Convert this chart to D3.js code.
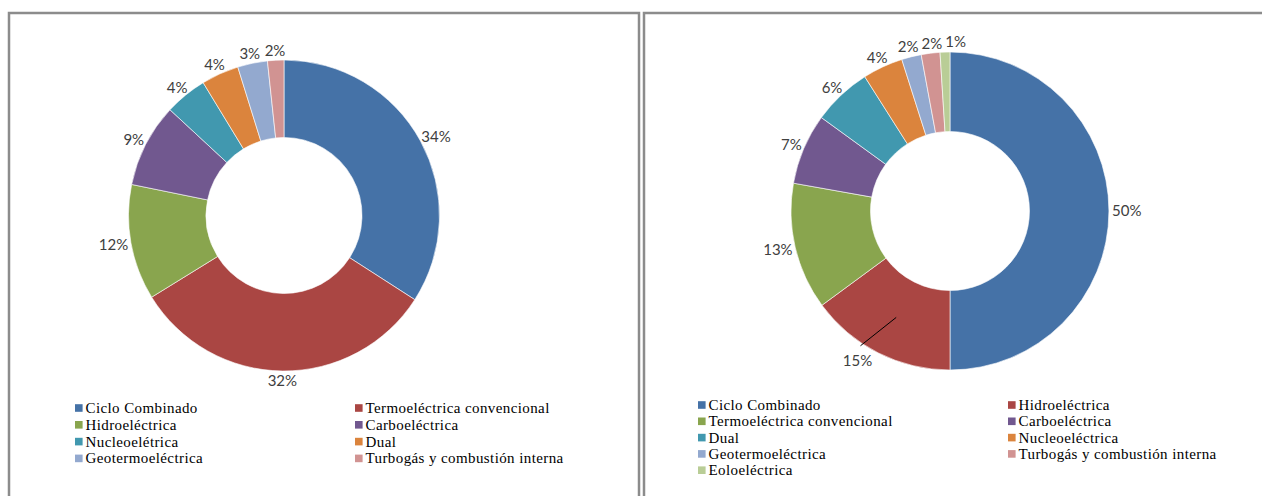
<!DOCTYPE html>
<html>
<head>
<meta charset="utf-8">
<script src="https://cdn.jsdelivr.net/npm/d3@7"></script>
<style>
  body { margin: 0; background: #fff; }
  svg { display: block; }
  .pct { font-family: Lato, "Open Sans", sans-serif; font-size: 15px; fill: #404040; }
  .leg { font-family: "Liberation Serif", "Times New Roman", serif; font-size: 15px; fill: #000; letter-spacing: 0.4px; }
</style>
</head>
<body>
<div id="chart"></div>
<script>
// left chart
var leftCategories = ["Ciclo Combinado", "Termoeléctrica convencional", "Hidroeléctrica", "Carboeléctrica",
                      "Nucleoelétrica", "Dual", "Geotermoeléctrica", "Turbogás y combustión interna"];
var leftValues = [34.1, 32.1, 12.0, 8.7, 4.4, 3.9, 3.1, 1.7];

// right chart
var rightCategories = ["Ciclo Combinado", "Hidroeléctrica", "Termoeléctrica convencional", "Carboeléctrica",
                       "Dual", "Nucleoeléctrica", "Geotermoeléctrica", "Turbogás y combustión interna", "Eoloeléctrica"];
var rightValues = [50.0, 14.9, 12.9, 7.2, 6.0, 4.1, 2.0, 1.9, 1.0];

// excel 2007 default slice colours, by position
var palette = ["#4572A7", "#AA4643", "#89A54E", "#71588F", "#4198AF", "#DB843D", "#93A9CF", "#D19392", "#B9CD96"];

var width = 1262, height = 496;

var svg = d3.select("#chart")
  .append("svg")
    .attr("width", width)
    .attr("height", height);

function drawDonut(cfg) {
  var g = svg.append("g");

  // chart frame
  g.append("rect")
    .attr("x", cfg.frame[0])
    .attr("y", cfg.frame[1])
    .attr("width", cfg.frame[2])
    .attr("height", cfg.frame[3])
    .attr("fill", "none")
    .attr("stroke", "#8c8c8c")
    .attr("stroke-width", 2.5);

  var data = cfg.cats.map(function(c, i) { return {cat: c, value: cfg.vals[i], i: i}; });
  var total = d3.sum(cfg.vals);

  var pie = d3.pie().value(function(d) { return d.value; }).sort(null);
  var arc = d3.arc().innerRadius(cfg.r).outerRadius(cfg.R);
  var arcs = pie(data);

  var color = d3.scaleOrdinal().domain(d3.range(palette.length)).range(palette);

  var donut = g.append("g")
    .attr("transform", "translate(" + cfg.cx + "," + cfg.cy + ")");

  donut.selectAll("path")
    .data(arcs)
    .join("path")
      .attr("d", arc)
      .attr("fill", function(d) { return color(d.data.i); })
      .attr("stroke", "#fff")
      .attr("stroke-width", 0.6);

  // percentage labels, placed just outside the ring
  var labels = donut.selectAll("text.pct")
    .data(arcs)
    .join("text")
      .attr("class", "pct")
      .attr("text-anchor", "middle")
      .attr("dy", "0.36em")
      .text(function(d) { return Math.round(d.data.value / total * 100) + "%"; });

  var boxes = [];
  labels.each(function(d, k) {
    var w = this.getComputedTextLength(), h = 14;
    var a = (d.startAngle + d.endAngle) / 2;
    var pad = 3, extra = 0;
    if (cfg.leader && cfg.leader.index === k) { a += cfg.leader.shift; extra = cfg.leader.extra; }
    var sx = Math.sin(a), sy = -Math.cos(a);
    var rr = cfg.R + pad + extra;
    boxes.push({node: this, d: d, w: w, h: h,
                x: sx * rr + sx * w / 2, y: sy * rr + sy * h / 2});
  });

  // push crowded labels near the top apart (left to right)
  var top = boxes.filter(function(b) { return b.y < -cfg.R * 0.85; })
                 .sort(function(a, b) { return a.x - b.x; });
  for (var k = 1; k < top.length; k++) {
    var prev = top[k - 1], cur = top[k];
    var minX = prev.x + prev.w / 2 + 3 + cur.w / 2;
    if (cur.x < minX) cur.x = minX;
  }

  boxes.forEach(function(b) {
    d3.select(b.node).attr("x", b.x).attr("y", b.y);
  });

  if (cfg.leader) {
    var b = boxes[cfg.leader.index];
    var c = arc.centroid(b.d);
    donut.append("line")
      .attr("x1", c[0]).attr("y1", c[1])
      .attr("x2", b.x + 3).attr("y2", b.y - b.h / 2 - 8)
      .attr("stroke", "#000")
      .attr("stroke-width", 1);
  }

  // legend, two columns, row-major
  var leg = g.append("g")
    .attr("transform", "translate(" + cfg.legX + "," + cfg.legY + ")");

  var item = leg.selectAll("g")
    .data(data)
    .join("g")
      .attr("transform", function(d, i) {
        return "translate(" + (i % 2) * cfg.colGap + "," + Math.floor(i / 2) * cfg.rowH + ")";
      });

  item.append("rect")
    .attr("x", 0)
    .attr("y", -3.8)
    .attr("width", 7.6)
    .attr("height", 7.6)
    .attr("fill", function(d) { return color(d.i); });

  item.append("text")
    .attr("class", "leg")
    .attr("x", 10.5)
    .attr("y", 5)
    .text(function(d) { return d.cat; });
}

drawDonut({
  cats: leftCategories, vals: leftValues,
  frame: [9, 13, 630, 500],
  cx: 284, cy: 215.5, R: 155.5, r: 78,
  legX: 75, legY: 408, colGap: 280, rowH: 16.8
});

drawDonut({
  cats: rightCategories, vals: rightValues,
  frame: [644, 13, 630, 500],
  cx: 950, cy: 211, R: 159, r: 79.5,
  legX: 698, legY: 405, colGap: 310, rowH: 16.3,
  leader: {index: 1, shift: 0.066, extra: 5}
});
</script>
</body>
</html>
